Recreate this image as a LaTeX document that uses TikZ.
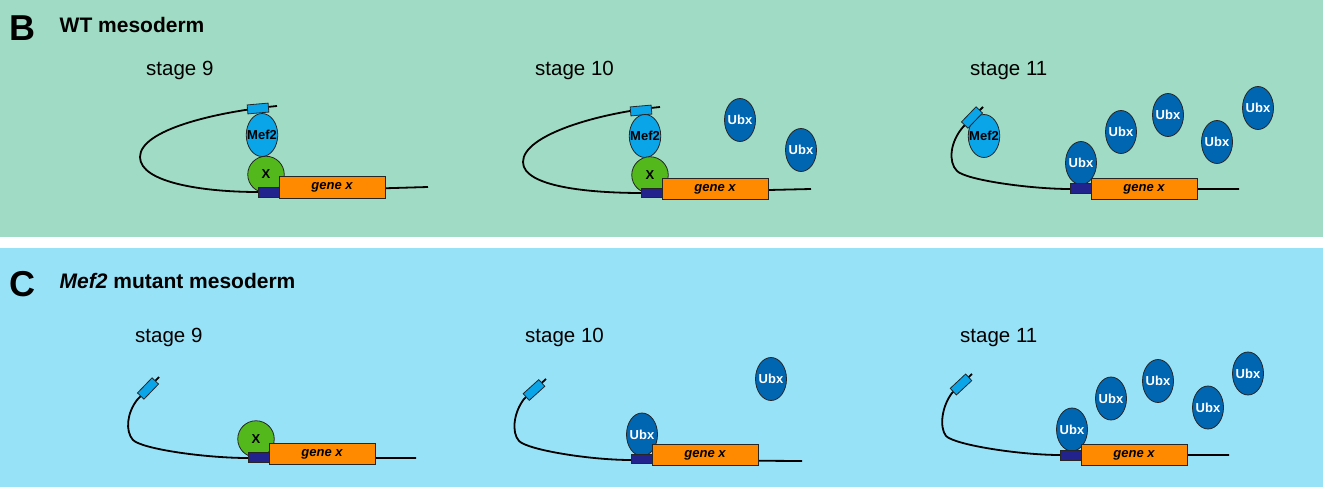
\documentclass[tikz,border=0pt]{standalone}
\usepackage{fontspec}
\setmainfont{Liberation Sans}
\usetikzlibrary{shapes.geometric}
\definecolor{bgB}{HTML}{A0DCC5}
\definecolor{bgC}{HTML}{98E2F8}
\definecolor{mefcol}{HTML}{0AA5E8}
\definecolor{ubxcol}{HTML}{0066B2}
\definecolor{xcol}{HTML}{52B81C}
\definecolor{genecol}{HTML}{FF8A00}
\definecolor{promcol}{HTML}{22238C}
\begin{document}
\begin{tikzpicture}[x=1pt,y=-1pt,
  dnaline/.style={line width=1.8pt, black},
  outl/.style={draw=black!85, line width=0.8pt},
  sitebox/.style={outl, fill=mefcol, rectangle, minimum width=21pt, minimum height=9pt, inner sep=0pt},
  intext/.style={font=\fontsize{13}{15}\selectfont\bfseries, inner sep=0pt},
  mefnode/.style={outl, fill=mefcol, ellipse, minimum width=31.5pt, minimum height=43pt, inner sep=0pt,
    label={[intext, text=black]center:Mef2}},
  ubxnode/.style={outl, fill=ubxcol, ellipse, minimum width=31pt, minimum height=43pt, inner sep=0pt,
    label={[intext, text=white]center:Ubx}},
  xnode/.style={outl, fill=xcol, circle, minimum size=36.5pt, inner sep=0pt,
    label={[intext, text=black]center:X}},
  promnode/.style={outl, fill=promcol, rectangle, minimum width=21pt, minimum height=9.5pt, inner sep=0pt},
  genenode/.style={outl, fill=genecol, rectangle, minimum width=106pt, minimum height=21.5pt, inner sep=0pt,
    font=\fontsize{13}{15}\selectfont\bfseries\itshape},
  stagelbl/.style={anchor=base west, inner sep=0pt, font=\fontsize{20.5}{24}\selectfont},
  paneltitle/.style={anchor=base west, inner sep=0pt, font=\fontsize{21}{25}\selectfont\bfseries},
  panelletter/.style={anchor=base west, inner sep=0pt, font=\fontsize{36}{40}\selectfont\bfseries}
]
\useasboundingbox (0,0) rectangle (1323,487);
\fill[bgB] (0,0) rectangle (1323,237);
\fill[white] (0,237) rectangle (1323,248);
\fill[bgC] (0,248) rectangle (1323,487);

% titles
\node[panelletter] (letB) at (9.5,41) {B};
\node[paneltitle] (titB) at (59.5,33) {WT mesoderm};
\node[panelletter] (letC) at (9.5,296) {C};
\node[paneltitle] (titC) at (59.5,288) {\itshape Mef2\upshape{} mutant mesoderm};

\node[stagelbl] (sB9) at (146,75) {stage 9};
\node[stagelbl] (sB10) at (535,75) {stage 10};
\node[stagelbl] (sB11) at (970,75) {stage 11};
\node[stagelbl] (sC9) at (135,342) {stage 9};
\node[stagelbl] (sC10) at (525,342) {stage 10};
\node[stagelbl] (sC11) at (960,342) {stage 11};

% ---------- B stage 9
\coordinate (b9s) at (277,106);
\coordinate (b9e) at (428,187);
\draw[dnaline] (b9s) .. controls (215,112) and (140,130) .. (140,157)
  .. controls (140,183) and (205,192) .. (258,192) -- (b9e);
\node[sitebox, rotate=5] (b9site) at (258,108.5) {};
\node[mefnode] (b9mef) at (262,135) {};
\node[xnode] (b9x) at (266,174.5) {};
\node[promnode] (b9p) at (268.5,192.5) {};
\node[genenode] (b9g) at (332,187.5) {gene x};

% ---------- B stage 10
\coordinate (b10s) at (660,107);
\coordinate (b10e) at (811,189);
\draw[dnaline] (b10s) .. controls (598,113) and (523,135) .. (523,162)
  .. controls (523,187) and (590,193) .. (642,193) -- (b10e);
\node[sitebox, rotate=5] (b10site) at (641,110.5) {};
\node[mefnode] (b10mef) at (645,136) {};
\node[xnode] (b10x) at (650,175) {};
\node[promnode] (b10p) at (652,193) {};
\node[genenode] (b10g) at (715,189) {gene x};
\node[ubxnode] (b10u1) at (740,120) {};
\node[ubxnode] (b10u2) at (801,150) {};

% ---------- B stage 11
\coordinate (b11s) at (983,107);
\coordinate (b11e) at (1239,189);
\draw[dnaline] (b11s) -- (963,127) .. controls (950,142) and (948,162) .. (957,171)
  .. controls (966,180) and (1030,189) .. (1070,189) -- (b11e);
\node[mefnode] (b11mef) at (984,136) {};
\node[sitebox, rotate=46] (b11site) at (972,117.5) {};
\node[ubxnode] (b11u0) at (1081,163) {};
\node[promnode] (b11p) at (1081,188.5) {};
\node[genenode] (b11g) at (1144,189) {gene x};
\node[ubxnode] (b11u1) at (1121,132) {};
\node[ubxnode] (b11u2) at (1168,115) {};
\node[ubxnode] (b11u3) at (1217,142) {};
\node[ubxnode] (b11u4) at (1258,108) {};

% ---------- C stage 9
\coordinate (c9s) at (159,377);
\coordinate (c9e) at (416,458);
\draw[dnaline] (c9s) -- (137,400) .. controls (127,413) and (125,431) .. (133,440)
  .. controls (142,449) and (205,458) .. (248,458) -- (c9e);
\node[sitebox, rotate=46] (c9site) at (148,388.5) {};
\node[xnode] (c9x) at (256,439) {};
\node[promnode] (c9p) at (258.5,457.5) {};
\node[genenode] (c9g) at (322,454) {gene x};

% ---------- C stage 10
\coordinate (c10s) at (546,379);
\coordinate (c10e) at (802,461);
\draw[dnaline] (c10s) -- (524,399) .. controls (514,412) and (511,432) .. (519,441)
  .. controls (528,450) and (590,460) .. (631,460) -- (c10e);
\node[sitebox, rotate=42] (c10site) at (534,390) {};
\node[ubxnode] (c10u0) at (642,434.5) {};
\node[promnode] (c10p) at (641.5,459) {};
\node[genenode] (c10g) at (705,455) {gene x};
\node[ubxnode] (c10u1) at (771,379) {};

% ---------- C stage 11
\coordinate (c11s) at (972,374);
\coordinate (c11e) at (1229,455);
\draw[dnaline] (c11s) -- (952,393) .. controls (942,406) and (939,427) .. (946,436)
  .. controls (955,445) and (1020,455) .. (1060,455) -- (c11e);
\node[sitebox, rotate=43] (c11site) at (961,384.5) {};
\node[ubxnode] (c11u0) at (1072,429.5) {};
\node[promnode] (c11p) at (1071,455.5) {};
\node[genenode] (c11g) at (1134,455) {gene x};
\node[ubxnode] (c11u1) at (1111,398.5) {};
\node[ubxnode] (c11u2) at (1158,381) {};
\node[ubxnode] (c11u3) at (1208,407.5) {};
\node[ubxnode] (c11u4) at (1248,373.5) {};
\end{tikzpicture}
\end{document}
